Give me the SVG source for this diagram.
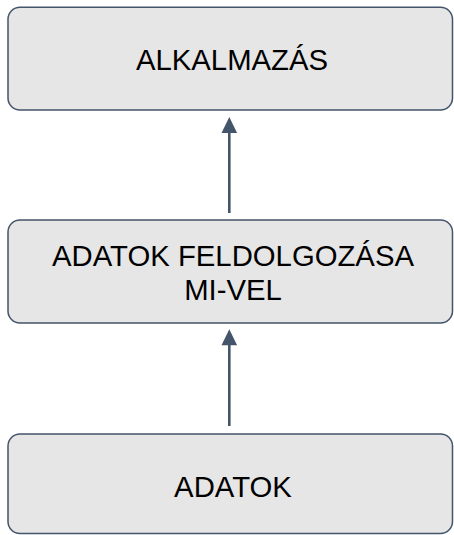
<svg xmlns="http://www.w3.org/2000/svg" width="454" height="535" viewBox="0 0 454 535">
  <defs>
    <style>
      .box { fill: #E7E6E6; stroke: #44546A; stroke-width: 1.5; }
      .lbl { font-family: "Liberation Sans", Arial, sans-serif; font-size: 29.3px; fill: #000000; text-anchor: middle; }
      .conn { stroke: #44546A; stroke-width: 2.6; fill: none; }
      .head { fill: #44546A; }
    </style>
  </defs>
  <rect x="0" y="0" width="454" height="535" fill="#FFFFFF"/>
  <g id="connectors">
    <line class="conn" x1="229.3" y1="213" x2="229.3" y2="131"/>
    <polygon class="head" points="229.3,117 221.5,133 237.1,133"/>
    <line class="conn" x1="229.3" y1="426" x2="229.3" y2="343"/>
    <polygon class="head" points="229.3,329.3 221.5,345.3 237.1,345.3"/>
  </g>
  <g id="node-alkalmazas">
    <rect class="box" x="8" y="7.3" width="444.5" height="102.7" rx="12" ry="12"/>
    <text class="lbl" x="232" y="70">ALKALMAZÁS</text>
  </g>
  <g id="node-feldolgozas">
    <rect class="box" x="8" y="220" width="444.5" height="103" rx="12" ry="12"/>
    <text class="lbl" x="233" y="266">ADATOK FELDOLGOZÁSA</text>
    <text class="lbl" x="233" y="300">MI-VEL</text>
  </g>
  <g id="node-adatok">
    <rect class="box" x="8" y="434" width="444.5" height="99.5" rx="12" ry="12"/>
    <text class="lbl" x="233" y="497">ADATOK</text>
  </g>
</svg>
